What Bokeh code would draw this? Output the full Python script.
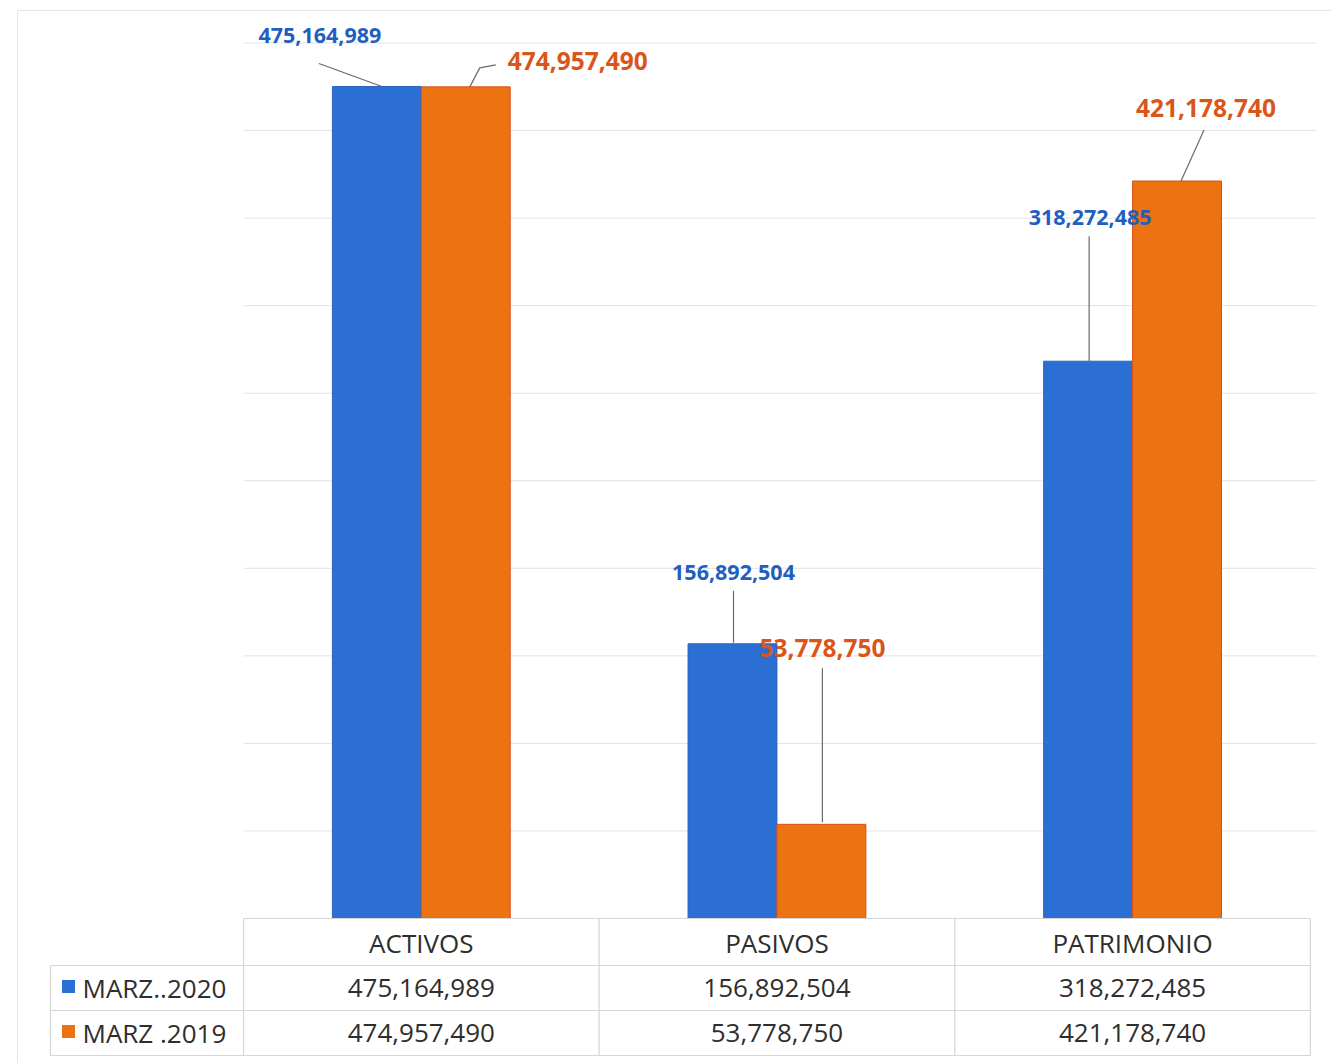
from bokeh.plotting import figure
from bokeh.models import Range1d, ColumnDataSource
from bokeh.embed import file_html
from bokeh.resources import INLINE
from bokeh.core.properties import value

# ---------------- data ----------------
categories = ["ACTIVOS", "PASIVOS", "PATRIMONIO"]
series_names = ["MARZ..2020", "MARZ .2019"]
marz_2020 = [475164989, 156892504, 318272485]
marz_2019 = [474957490, 53778750, 421178740]
grid_values = [50e6, 100e6, 150e6, 200e6, 250e6, 300e6, 350e6, 400e6, 450e6, 500e6]

# ---------------- layout helpers ----------------
W, H = 1331, 1063
PX_X = 355.63          # pixels per category unit
X0_PX = 243            # pixel x of category axis start
PX_Y = 832 / 475164989  # pixels per value unit
Y0_PX = 918            # pixel y of baseline

def X(px):
    return (px - X0_PX) / PX_X

def Y(py):
    return (Y0_PX - py) / PX_Y

def DX(d):
    return d / PX_X

def DY(d):
    return -d / PX_Y

BLUE = "#2b6fd4"
ORANGE = "#ec7212"
BLUE_TXT = "#1f5fbf"
ORANGE_TXT = "#da5518"
GRID = "#e2e2e2"
TABLE_LINE = "#d6d6d6"
TXT = "#2e2e2e"
FONT = value("Open Sans")

p = figure(width=W, height=H, output_backend="svg", toolbar_location=None,
           x_axis_type=None, y_axis_type=None,
           x_range=Range1d(X(0), X(W)), y_range=Range1d(Y(H), Y(0)),
           min_border=0, min_border_left=0, min_border_right=0,
           min_border_top=0, min_border_bottom=0)
p.outline_line_color = None
p.xgrid.visible = False
p.ygrid.visible = False
p.background_fill_color = "white"
p.border_fill_color = "white"

n = len(categories)
xc = [i + 0.5 for i in range(n)]
BW = 0.25

# page border (faint)
p.segment(x0=[X(17), X(17)], y0=[Y(10), Y(10)], x1=[X(W), X(17)], y1=[Y(10), Y(H)],
          line_color="#e4e4e4", line_width=1)

# gridlines
p.segment(x0=[0] * len(grid_values), x1=[X(1316)] * len(grid_values),
          y0=grid_values, y1=grid_values, line_color=GRID, line_width=1)

# bars
src = ColumnDataSource(dict(
    x20=[x - BW / 2 for x in xc], x19=[x + BW / 2 for x in xc],
    v20=marz_2020, v19=marz_2019))
p.vbar(x="x20", top="v20", bottom=0, width=BW, source=src,
       fill_color=BLUE, line_color="#2a63bd", line_width=1)
p.vbar(x="x19", top="v19", bottom=0, width=BW, source=src,
       fill_color=ORANGE, line_color="#d8501a", line_width=1)

# data labels (offsets in pixels from the bar top center)
def fmt(v):
    return f"{v:,}"

lab20_off = [(-57, -51), (1, -71), (2, -144)]
lab19_off = [(112, -26), (1, -176), (29, -73)]
lead20 = [[(5, 0), (-58, -23)], [(1, -1), (1, -53)], [(1, 0), (1, -125)]]
lead19 = [[(4, 0), (14, -19), (30, -22)], [(1, -2), (1, -156)], [(4, 0), (27, -51)]]

for vals, offs, leads, xs_, color, size in [
        (marz_2020, lab20_off, lead20, [x - BW / 2 for x in xc], BLUE_TXT, "21.5px"),
        (marz_2019, lab19_off, lead19, [x + BW / 2 for x in xc], ORANGE_TXT, "24.5px")]:
    tx = [xs_[i] + DX(offs[i][0]) for i in range(n)]
    ty = [vals[i] + DY(offs[i][1]) for i in range(n)]
    p.text(x=tx, y=ty, text=[fmt(v) for v in vals], text_align="center",
           text_baseline="middle", text_color=color, text_font=FONT,
           text_font_size=size, text_font_style="bold")
    for i in range(n):
        lx = [xs_[i] + DX(d[0]) for d in leads[i]]
        ly = [vals[i] + DY(d[1]) for d in leads[i]]
        p.line(x=lx, y=ly, line_color="#6a6a6a", line_width=1.2)

# data table
hl_y = [Y(918), Y(965), Y(1010), Y(1055)]
hl_x0 = [0, X(50), X(50), X(50)]
p.segment(x0=hl_x0, x1=[X(1310)] * 4, y0=hl_y, y1=hl_y,
          line_color=TABLE_LINE, line_width=1.2)
vx = [X(50), 0, 1, 2, 3]
vy0 = [Y(965), 0, 0, 0, 0]
p.segment(x0=vx, x1=vx, y0=vy0, y1=[Y(1055)] * 5,
          line_color=TABLE_LINE, line_width=1.2)

p.text(x=xc, y=[Y(942)] * n, text=categories, text_align="center",
       text_baseline="middle", text_color=TXT, text_font=FONT,
       text_font_size="26px")
p.text(x=xc, y=[Y(987)] * n, text=[fmt(v) for v in marz_2020], text_align="center",
       text_baseline="middle", text_color=TXT, text_font=FONT, text_font_size="26px")
p.text(x=xc, y=[Y(1032)] * n, text=[fmt(v) for v in marz_2019], text_align="center",
       text_baseline="middle", text_color=TXT, text_font=FONT, text_font_size="26px")

# legend keys in the table
p.rect(x=[X(68)] * 2, y=[Y(986), Y(1031)], width=DX(13), height=abs(DY(13)),
       fill_color=[BLUE, ORANGE], line_color=None)
p.text(x=[X(82)] * 2, y=[Y(987), Y(1032)], text=series_names, text_align="left",
       text_baseline="middle", text_color=TXT, text_font=FONT, text_font_size="26px")

open("out.html", "w").write(file_html(p, INLINE))
